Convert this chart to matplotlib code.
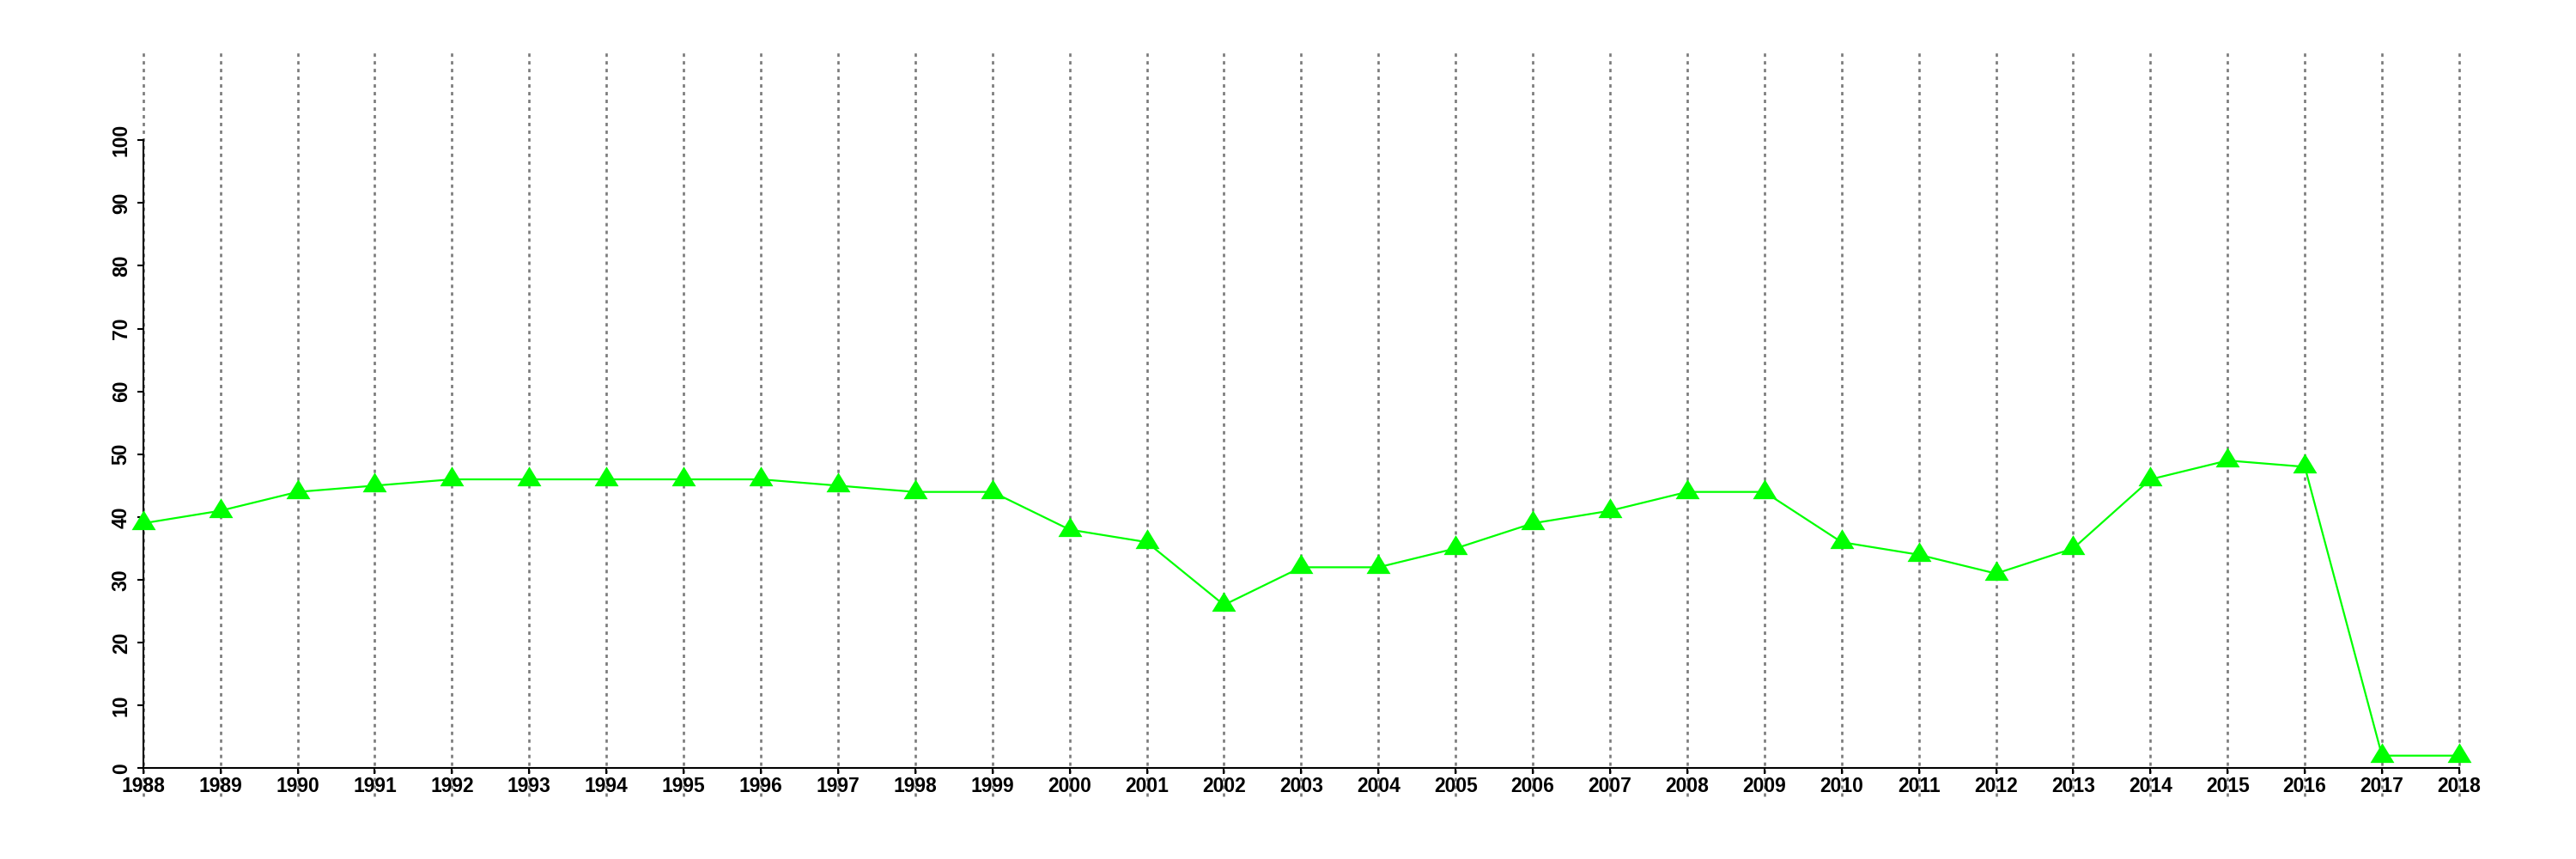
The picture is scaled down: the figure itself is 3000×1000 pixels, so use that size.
import matplotlib
matplotlib.use("Agg")
import matplotlib.pyplot as plt

years = list(range(1988, 2019))
values = [39, 41, 44, 45, 46, 46, 46, 46, 46, 45, 44, 44, 38, 36, 26, 32, 32,
          35, 39, 41, 44, 44, 36, 34, 31, 35, 46, 49, 48, 2, 2]
yticks = list(range(0, 101, 10))

plt.rcParams['font.family'] = ['Liberation Sans', 'DejaVu Sans']

W, H = 3000, 1000
fig = plt.figure(figsize=(30, 10), dpi=100)
x0, x1 = 166.7, 2864.0
y0, y100 = 894.3, 163.3
ax = fig.add_axes([x0 / W, 1 - y0 / H, (x1 - x0) / W, (y0 - y100) / H])
ax.set_xlim(1988, 2018)
ax.set_ylim(0, 100)

ppu = (y0 - y100) / 100.0
top_val = (y0 - 60) / ppu
bot_val = (y0 - 927) / ppu
ax.vlines(years, bot_val, top_val, colors='#7a7a7a', linewidth=1.9,
          linestyles=(0, (1.5, 1.9)), clip_on=False, zorder=1)

# centroid-centred triangle (like R's pch 17)
tri = [(0, 2), (-1.83, -1), (1.83, -1), (0, 2)]
ax.plot(years, values, color='#00ff00', linewidth=1.6, marker=tri,
        markersize=22, markeredgewidth=0, clip_on=False, zorder=3)

for s in ['top', 'right']:
    ax.spines[s].set_visible(False)
ax.spines['left'].set_bounds(0, 100)
ax.spines['bottom'].set_bounds(1988, 2018)
for s in ['left', 'bottom']:
    ax.spines[s].set_linewidth(1.5)
    ax.spines[s].set_zorder(2)

ax.set_xticks(years)
ax.set_xticklabels([str(y) for y in years], fontsize=16.5, fontweight='bold')
ax.set_yticks(yticks)
ax.set_yticklabels([str(v) for v in yticks], fontsize=16.5, fontweight='bold',
                   rotation=90, va='center')
ax.tick_params(axis='both', direction='out', length=5, width=1.5)
ax.tick_params(axis='x', pad=2)
ax.tick_params(axis='y', pad=5)
ax.patch.set_visible(False)

fig.savefig('out.png', dpi=100, facecolor='white')
